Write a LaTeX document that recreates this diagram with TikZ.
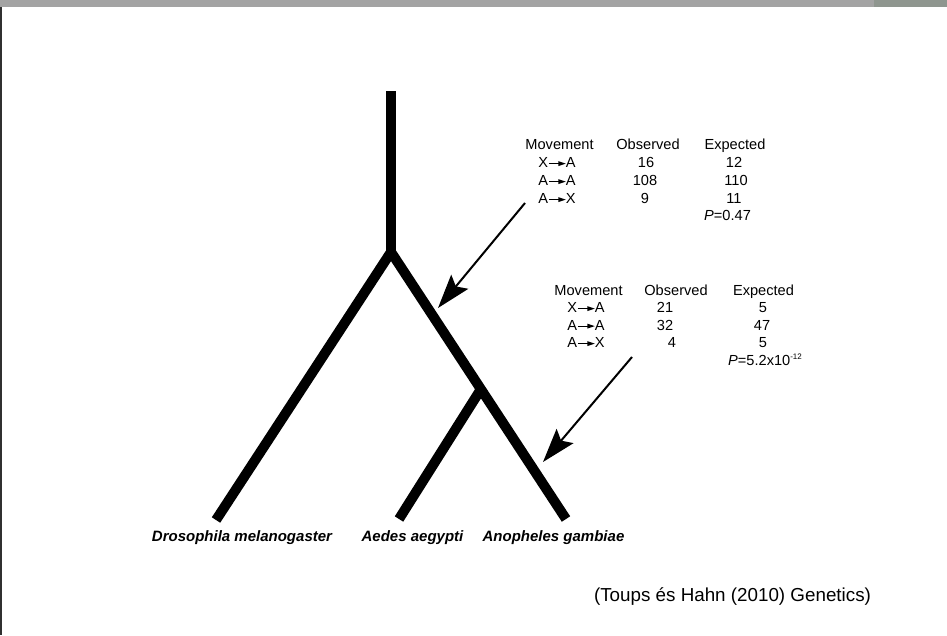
\documentclass[tikz,border=0pt]{standalone}
\usepackage{fontspec}
\setmainfont{Liberation Sans}
\usetikzlibrary{arrows.meta}
\definecolor{barGray}{HTML}{A3A3A3}
\definecolor{barTex}{HTML}{8F968F}
\definecolor{edgeGray}{HTML}{303030}
\newcommand{\mvarrow}{\tikz[baseline=0pt]{\draw[line width=1.1pt] (0,3.9pt)--(11pt,3.9pt); \fill (9.5pt,1.4pt)--(17pt,3.9pt)--(9.5pt,6.4pt)--cycle;}}
\begin{document}
\begin{tikzpicture}[x=1pt,y=-1pt,
  branch/.style={line width=10pt,line cap=butt,line join=miter},
  pointer/.style={line width=2pt,-{Stealth[length=34pt,width=22pt,inset=6pt]}},
  tab/.style={font=\fontsize{14.6}{16}\selectfont,anchor=base,inner sep=0pt},
  tabw/.style={font=\fontsize{14.6}{16}\selectfont,anchor=base west,inner sep=0pt},
  species/.style={font=\fontsize{15}{17}\selectfont\bfseries\itshape,anchor=base,inner sep=0pt},
  cite/.style={font=\fontsize{18.8}{21}\selectfont,anchor=base,inner sep=0pt}]
\useasboundingbox (0,0) rectangle (947,635);
\fill[white] (0,0) rectangle (947,635);
% frame
\fill[barGray] (0,0) rectangle (947,6.5);
\fill[barTex] (874,0) rectangle (947,6.5);
\fill[edgeGray] (0,6.5) rectangle (1.7,635);
% tree
\coordinate (top) at (391,91);
\coordinate (root) at (391,252);
\coordinate (dmel) at (216,520);
\coordinate (inner) at (481,389);
\coordinate (aedes) at (399,519);
\coordinate (anoph) at (566,519);
\draw[branch] (top) -- (root);
\draw[branch] (dmel) -- (root) -- (anoph);
\draw[branch] (inner) -- (aedes);
% species
\node[species] (ldmel) at (242,541) {Drosophila melanogaster};
\node[species] (laed) at (412.5,541) {Aedes aegypti};
\node[species] (lano) at (553.5,541) {Anopheles gambiae};
% table 1
\node[tab] (t1h1) at (559.5,149.5) {Movement};
\node[tab] (t1h2) at (648,149.5) {Observed};
\node[tab] (t1h3) at (735,149.5) {Expected};
\node[tab] (t1r1) at (557,167.5) {X\mvarrow A};
\node[tab] (t1r2) at (557,185.5) {A\mvarrow A};
\node[tab] (t1r3) at (557,203.5) {A\mvarrow X};
\node[tab] (t1o1) at (646,167.5) {16};
\node[tab] (t1o2) at (645,185.5) {108};
\node[tab] (t1o3) at (645,203.5) {9};
\node[tab] (t1e1) at (734,167.5) {12};
\node[tab] (t1e2) at (736,185.5) {110};
\node[tab] (t1e3) at (734,203.5) {11};
\node[tabw] (t1p) at (704,220.5) {\textit{P}=0.47};
% table 2
\node[tab] (t2h1) at (588.5,295) {Movement};
\node[tab] (t2h2) at (676,295) {Observed};
\node[tab] (t2h3) at (763.5,295) {Expected};
\node[tab] (t2r1) at (586,312.5) {X\mvarrow A};
\node[tab] (t2r2) at (586,330) {A\mvarrow A};
\node[tab] (t2r3) at (586,347.5) {A\mvarrow X};
\node[tab] (t2o1) at (665,312.5) {21};
\node[tab] (t2o2) at (665,330) {32};
\node[tab] (t2o3) at (672,347.5) {4};
\node[tab] (t2e1) at (763,312.5) {5};
\node[tab] (t2e2) at (762,330) {47};
\node[tab] (t2e3) at (763,347.5) {5};
\node[tabw] (t2p) at (728,365) {\textit{P}=5.2x10\textsuperscript{\fontsize{8}{9}\selectfont -12}};
% arrows
\coordinate (a1s) at (525,203);
\coordinate (a1e) at (438,308);
\coordinate (a2s) at (632,357);
\coordinate (a2e) at (543,462);
\draw[pointer] (a1s) -- (a1e);
\draw[pointer] (a2s) -- (a2e);
% citation
\node[cite] (cit) at (732.5,601.5) {(Toups és Hahn (2010) Genetics)};
\end{tikzpicture}
\end{document}
